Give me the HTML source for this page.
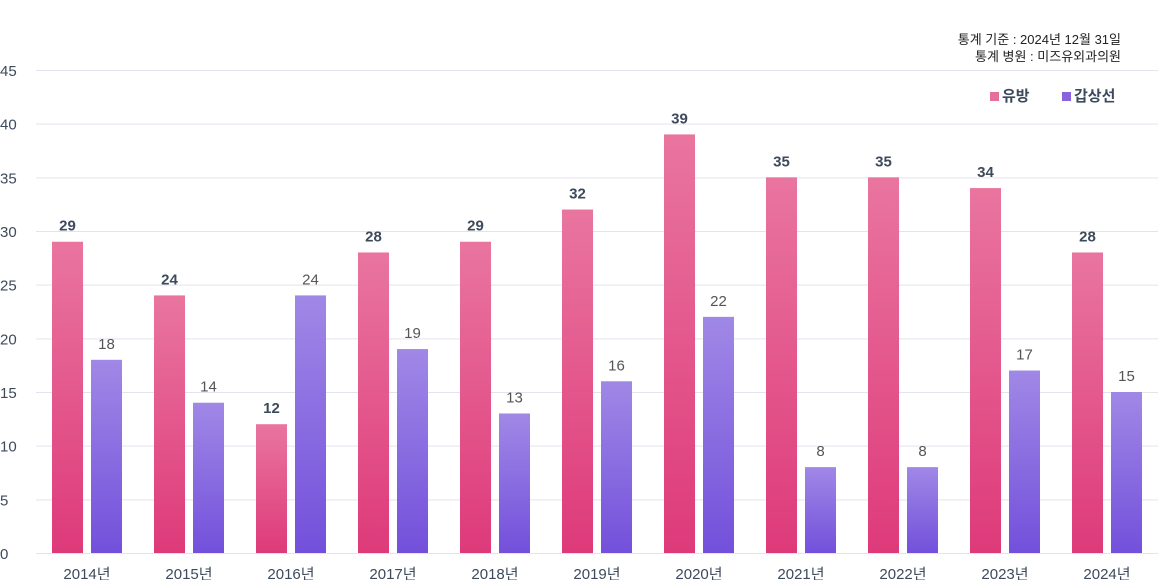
<!DOCTYPE html>
<html><head><meta charset="utf-8"><style>
body{margin:0;background:#fff;}
svg{display:block;font-family:"Liberation Sans","Noto Sans CJK KR",sans-serif;}
</style></head><body>
<svg id="chart" width="1158" height="580">
<defs>
<linearGradient id="gp" x1="0" y1="0" x2="0" y2="1"><stop offset="0" stop-color="#e9759f"/><stop offset="1" stop-color="#de3a7a"/></linearGradient>
<linearGradient id="gv" x1="0" y1="0" x2="0" y2="1"><stop offset="0" stop-color="#a088e6"/><stop offset="1" stop-color="#7350db"/></linearGradient>
</defs>
<text x="1121" y="44" text-anchor="end" font-size="13" fill="#222">통계 기준 : 2024년 12월 31일</text>
<text x="1121" y="61" text-anchor="end" font-size="13" fill="#222">통계 병원 : 미즈유외과의원</text>
<g>
<rect x="990" y="92" width="9" height="9" fill="#e6709c"/>
<text x="1002" y="101" font-size="15" font-weight="bold" fill="#3d4a5c">유방</text>
<rect x="1062" y="92" width="9" height="9" fill="#8b62dd"/>
<text x="1074" y="101" font-size="15" font-weight="bold" fill="#3d4a5c">갑상선</text>
</g>
<g id="grid"></g><g id="bars"></g>
</svg>
<script>
const categories=["2014년","2015년","2016년","2017년","2018년","2019년","2020년","2021년","2022년","2023년","2024년"];
const breast=[29,24,12,28,29,32,39,35,35,34,28];
const thyroid=[18,14,24,19,13,16,22,8,8,17,15];
const yTicks=[0,5,10,15,20,25,30,35,40,45];
const NS="http://www.w3.org/2000/svg";
const y=v=>553-v*(483/45);
const gx=i=>52+i*102;
function mk(t,a,p){const e=document.createElementNS(NS,t);for(const k in a)e.setAttribute(k,a[k]);p.appendChild(e);return e;}
const grid=document.getElementById('grid'),bars=document.getElementById('bars');
yTicks.forEach(t=>{
 const l=mk('line',{x1:36,x2:1158,y1:y(t)+.5,y2:y(t)+.5,stroke:'#e3e3ee','stroke-width':1},grid);
 
 
 const tx=mk('text',{x:0,y:y(t)+6,'font-size':15,fill:'#3d4a5c'},grid);tx.textContent=t;
 
 
});
categories.forEach((c,i)=>{
 const x=gx(i);
 const b=mk('rect',{x:x,y:y(breast[i]),width:31,height:553-y(breast[i]),fill:'url(#gp)'},bars);
 
 
 const bl=mk('text',{x:x+15.5,y:y(breast[i])-11,'text-anchor':'middle','font-size':15,'font-weight':'bold',fill:'#3d4a5c'},bars);bl.textContent=breast[i];
 
 
 const t=mk('rect',{x:x+39,y:y(thyroid[i]),width:31,height:553-y(thyroid[i]),fill:'url(#gv)'},bars);
 
 
 const tl=mk('text',{x:x+54.5,y:y(thyroid[i])-11,'text-anchor':'middle','font-size':15,fill:'#555'},bars);tl.textContent=thyroid[i];
 
 
 const cl=mk('text',{x:x+35,y:579,'text-anchor':'middle','font-size':15,fill:'#3d4a5c'},bars);cl.textContent=c;
 
 
});
</script>
</body></html>
